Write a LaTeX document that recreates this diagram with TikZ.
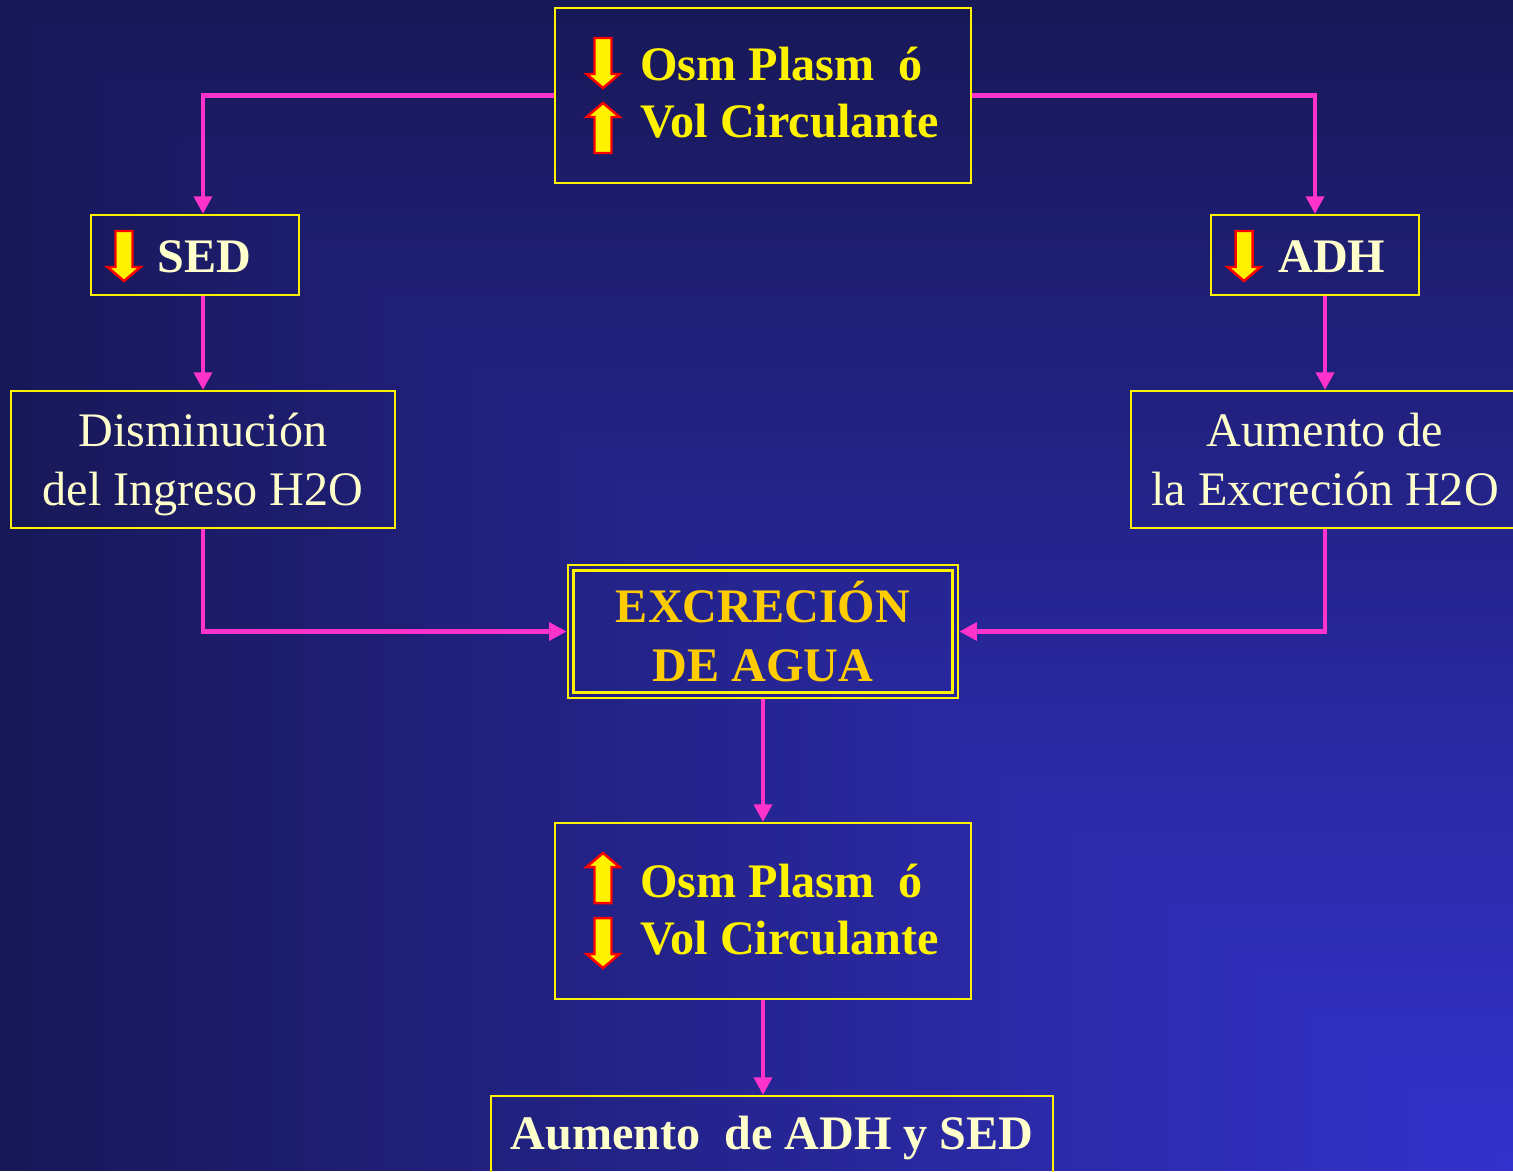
\documentclass[tikz,border=0pt]{standalone}
\usepackage{fontspec}
\setmainfont{Liberation Serif}
\usetikzlibrary{arrows.meta}
\definecolor{bgfar}{RGB}{24,24,88}
\definecolor{bgnear}{RGB}{52,50,205}
\definecolor{linkpink}{RGB}{255,51,204}
\definecolor{cream}{RGB}{255,255,204}
\definecolor{gold}{RGB}{255,204,0}
\begin{document}
\begin{tikzpicture}[x=0.02cm, y=-0.02cm,
        box/.style={draw=yellow, line width=1.2pt, inner sep=0pt},
        link/.style={draw=linkpink, line width=2.6pt, -{Triangle[length=10pt, width=10pt]}},
        big/.style={font=\fontsize{27.4}{33.5}\selectfont},
        bigb/.style={font=\fontsize{27.4}{33.5}\selectfont\bfseries},
        arrdown/.pic={
            \filldraw[fill=yellow, draw=red, line width=1.4pt]
                (-8.5, 0) -- (8.5, 0) -- (8.5, 36) -- (16.5, 36) -- (0, 50)
                -- (-16.5, 36) -- (-8.5, 36) -- cycle;
        },
        arrup/.pic={
            \filldraw[fill=yellow, draw=red, line width=1.4pt]
                (0, 0) -- (16.5, 14) -- (8.5, 14) -- (8.5, 50) -- (-8.5, 50)
                -- (-8.5, 14) -- (-16.5, 14) -- cycle;
        }]
        \useasboundingbox (0, 0) rectangle (1513, 1171);
        
        % Background
        \foreach \i in {0, 1, ..., 99} {
            \pgfmathtruncatemacro\p{100 - \i}
            \fill[bgfar!\p!bgnear] (15.13*\i, 11.71*\i) rectangle (1513, 1171);
        }
        
        % Boxes
        \node[box, minimum width=8.32cm, minimum height=3.5cm] (top) at (763, 95.5) {};
        \node[box, minimum width=4.16cm, minimum height=1.6cm] (sed) at (195, 255) {};
        \node[box, minimum width=4.16cm, minimum height=1.6cm] (adh) at (1315, 255) {};
        \node[box, big, text=cream, align=center, minimum width=7.68cm, minimum height=2.74cm]
            (dis) at (203, 459.5) {Disminución\\\smash{del Ingreso H2O}};
        \node[box, big, text=cream, align=center, minimum width=7.76cm, minimum height=2.74cm]
            (aum) at (1325, 459.5) {Aumento de\\la Excreción H2O};
        \node[box, bigb, text=gold, align=center, line width=1.6pt, minimum width=7.8cm, minimum height=2.66cm]
            (ex) at (763, 631.5) {EXCRECIÓN\\DE AGUA};
        \draw[yellow, line width=1.6pt] ([shift={(7, 7)}]ex.north west) rectangle ([shift={(-7, -7)}]ex.south east);
        \node[box, minimum width=8.32cm, minimum height=3.52cm] (bot) at (763, 911) {};
        \node[box, bigb, text=cream, minimum width=11.24cm, minimum height=1.68cm]
            (fin) at (772, 1138) {Aumento\ \ de ADH y SED};
        
        % Texts with arrows
        \pic at (603, 38) {arrdown};
        \pic at (603, 103) {arrup};
        \node[bigb, text=yellow, anchor=base west, inner sep=0pt] (osmtop) at (640, 80) {Osm Plasm\ \ ó};
        \node[bigb, text=yellow, anchor=base west, inner sep=0pt] (voltop) at (640, 137) {Vol Circulante};
        
        \pic at (124, 231) {arrdown};
        \node[bigb, text=cream, anchor=base west, inner sep=0pt] (sedtxt) at (157, 272) {SED};
        \pic at (1244, 231) {arrdown};
        \node[bigb, text=cream, anchor=base west, inner sep=0pt] (adhtxt) at (1278, 272) {ADH};
        
        \pic at (603, 853) {arrup};
        \pic at (603, 918) {arrdown};
        \node[bigb, text=yellow, anchor=base west, inner sep=0pt] (osmbot) at (640, 897) {Osm Plasm\ \ ó};
        \node[bigb, text=yellow, anchor=base west, inner sep=0pt] (volbot) at (640, 954) {Vol Circulante};
        
        % Connectors
        \draw[link] (top.west) -| (dis.north |- sed.north);
        \draw[link] (top.east) -| (adh.north);
        \draw[link] (dis.north |- sed.south) -- (dis.north);
        \draw[link] (aum.north |- adh.south) -- (aum.north);
        \draw[link] (dis.south) |- (ex.west);
        \draw[link] (aum.south) |- (ex.east);
        \draw[link] (ex.south) -- (bot.north);
        \draw[link] (bot.south) -- (bot.south |- fin.north);
    \end{tikzpicture}
\end{document}
